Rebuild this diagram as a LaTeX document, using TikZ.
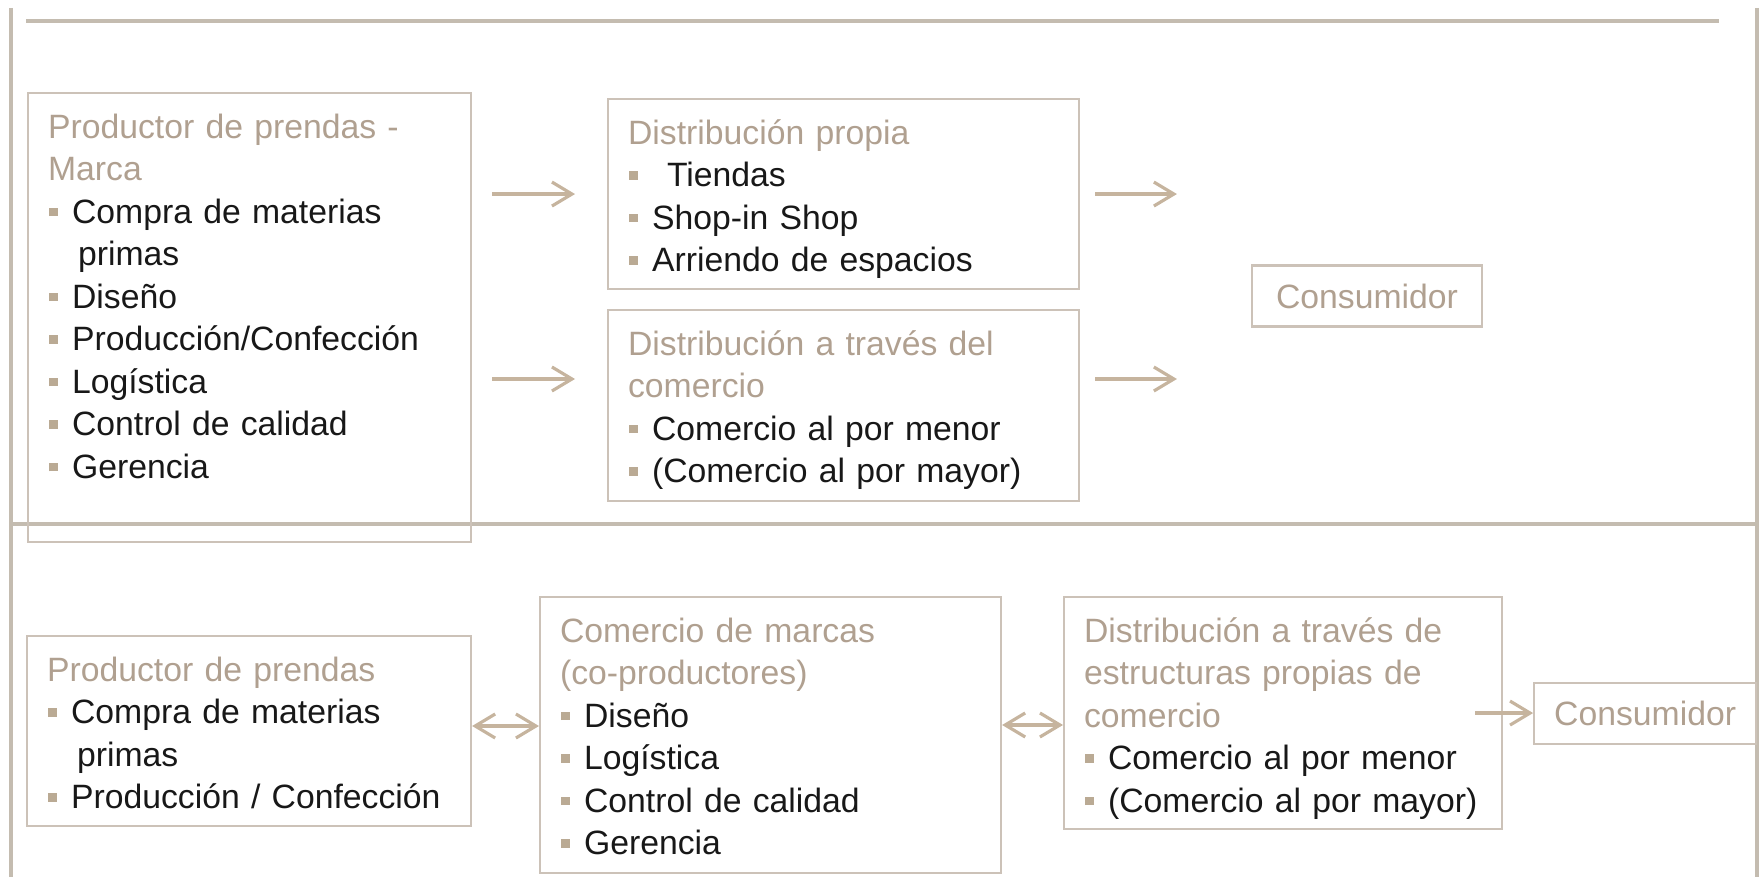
\documentclass[tikz,border=0pt]{standalone}
\usepackage{fontspec}
\setmainfont{Liberation Sans}
\usetikzlibrary{positioning, arrows.meta}

\definecolor{framecol}{RGB}{196,188,176}
\definecolor{boxcol}{RGB}{204,194,184}
\definecolor{headcol}{RGB}{176,160,144}
\definecolor{dotcol}{RGB}{186,170,148}
\definecolor{arrcol}{RGB}{198,180,158}
\definecolor{inkcol}{RGB}{24,24,24}

\newcommand{\bul}{\makebox[2.4mm][l]{\hspace{0.1mm}\textcolor{dotcol}{\rule[0.7mm]{0.85mm}{0.85mm}}}}
\newcommand{\head}[1]{\textcolor{headcol}{#1}}

\begin{document}
\begin{tikzpicture}[x=0.1mm, y=-0.1mm,
    panel/.style = {draw=boxcol, line width=0.6pt, anchor=north west, align=left,
      inner xsep=2mm, inner ysep=0pt, text height=4.5mm, text=inkcol,
      font=\fontsize{9.6}{12.1}\selectfont},
    sink/.style = {draw=boxcol, line width=0.6pt, text=headcol, minimum height=6.1mm,
      inner xsep=2mm, font=\fontsize{9.6}{12.1}\selectfont},
    rule/.style = {draw=framecol, line width=0.9pt},
    >={Straight Barb[length=2mm, width=2.4mm]},
    flow/.style = {draw=arrcol, line width=0.9pt}]
      \useasboundingbox (0,0) rectangle (1763,877);

      % frame
      \draw[rule] (11,8) -- (11,877);
      \draw[rule] (1757,8) -- (1757,877);
      \draw[rule] (26,21) -- (1719,21);
      \draw[rule] (11,524) -- (1757,524);

      % upper chain
      \node[panel, text width=40.3mm, text depth=40.4mm] (b1) at (27,92) {\head{Productor de prendas -}\\
        \head{Marca}\\
        \bul Compra de materias\\
        \hspace*{3mm}primas\\
        \bul Diseño\\
        \bul Producción/Confección\\
        \bul Logística\\
        \bul Control de calidad\\
        \bul Gerencia};
      \node[panel, text width=43.1mm, text depth=14.5mm] (b2) at (607,98) {\head{Distribución propia}\\
        \bul\hspace{1.5mm}Tiendas\\
        \bul Shop-in Shop\\
        \bul Arriendo de espacios};
      \node[panel, text width=43.1mm, text depth=14.6mm, below=1.9mm of b2.south west, anchor=north west] (b3) {\head{Distribución a través del}\\
        \head{comercio}\\
        \bul Comercio al por menor\\
        \bul (Comercio al por mayor)};
      \node[sink, minimum width=23mm] (c1) at (1367,296) {Consumidor};

      % lower chain
      \node[panel, text width=40.4mm, text depth=14.5mm] (b4) at (26,635) {\head{Productor de prendas}\\
        \bul Compra de materias\\
        \hspace*{3mm}primas\\
        \bul Producción / Confección};
      \node[panel, text width=42.1mm, text depth=23.1mm] (b5) at (539,596) {\head{Comercio de marcas}\\
        \head{(co-productores)}\\
        \bul Diseño\\
        \bul Logística\\
        \bul Control de calidad\\
        \bul Gerencia};
      \node[panel, text width=39.8mm, text depth=18.7mm] (b6) at (1063,596) {\head{Distribución a través de}\\
        \head{estructuras propias de}\\
        \head{comercio}\\
        \bul Comercio al por menor\\
        \bul (Comercio al por mayor)};
      \node[sink, minimum width=22mm, right=3mm of b6] (c2) {Consumidor};

      \path[flow]
      (b1.east |- b2.west) edge[->, shorten <=2mm, shorten >=3.2mm] (b2.west)
      (b1.east |- 0,379) edge[->, shorten <=2mm, shorten >=3.2mm] (b3.west |- 0,379)
      (b2.east) edge[->, shorten <=1.5mm, shorten >=7.4mm] (b2.east -| c1.west)
      (b3.east |- 0,379) edge[->, shorten <=1.5mm, shorten >=7.4mm] (c1.west |- 0,379)
      (b4.east |- 0,726) edge[<->] (b5.west |- 0,726)
      (b5.east |- 0,725) edge[<->] (b6.west |- 0,725)
      (c2.west) ++(-58,0) edge[->] (c2.west);
\end{tikzpicture}
\end{document}
